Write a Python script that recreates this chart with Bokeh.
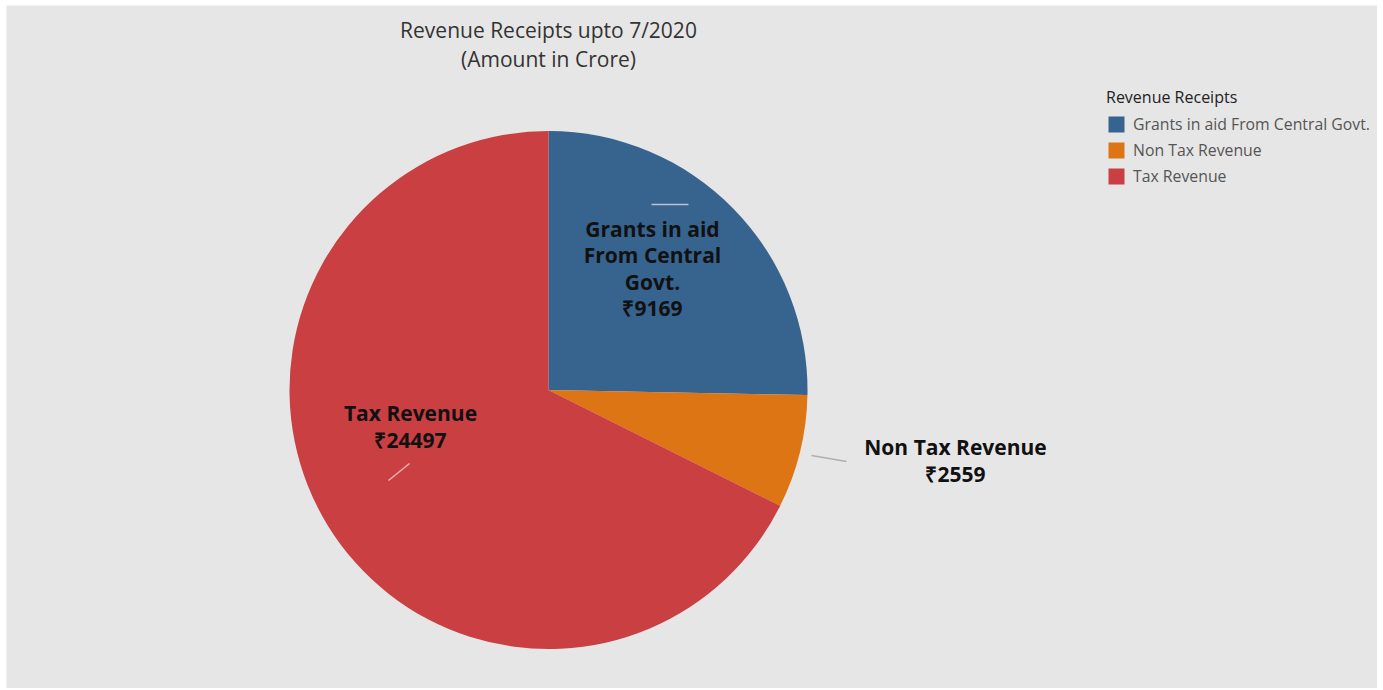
import numpy as np
from bokeh.plotting import figure
from bokeh.models import Range1d, ColumnDataSource, Legend, LegendItem
from bokeh.core.properties import value
from bokeh.embed import file_html
from bokeh.resources import INLINE

# ---- data ----
categories = ["Grants in aid From Central Govt.", "Non Tax Revenue", "Tax Revenue"]
label_lines = ["Grants in aid\nFrom Central\nGovt.", "Non Tax Revenue", "Tax Revenue"]
amounts = [9169, 2559, 24497]
colors = ["#37638f", "#dd7515", "#c93f42"]
title_lines = ["Revenue Receipts upto 7/2020", "(Amount in Crore)"]
legend_title = "Revenue Receipts"

OX, OY = 6, 5
W, H = 1371, 683
BG = "#e6e6e6"
FONT = "Open Sans"

def X(px):
    return px - OX

def Y(py):
    return H - (py - OY)

p = figure(width=W, height=H, x_range=Range1d(0, W), y_range=Range1d(0, H),
           output_backend="svg", toolbar_location=None, min_border=0,
           background_fill_color=BG, border_fill_color=BG, outline_line_color=None)
p.margin = (OY, 0, 0, OX)
p.axis.visible = False
p.grid.visible = False

# pie geometry (clockwise from 12 o'clock)
cx, cy, R = X(548), Y(389.5), 259
vals = np.array(amounts, dtype=float)
frac = vals / vals.sum()
cum = np.concatenate([[0], np.cumsum(frac)])
start = np.pi / 2 - cum[1:] * 2 * np.pi
end = np.pi / 2 - cum[:-1] * 2 * np.pi

src = ColumnDataSource(dict(x=[cx] * 3, y=[cy] * 3, start=start, end=end,
                            color=colors, cat=categories))
pie = p.wedge(x="x", y="y", radius=R, radius_units="screen", start_angle="start",
              end_angle="end", fill_color="color", line_color=None, source=src)

# leader lines
p.segment(x0=[X(651), X(388), X(811)], y0=[Y(204), Y(480), Y(455)],
          x1=[X(688), X(409), X(846)], y1=[Y(204), Y(463), Y(461)],
          line_color=["#b8c4d3", "#e8b4b4", "#b0b0b0"], line_width=1.5)

# slice labels
lab_txt = [f"{label_lines[i]}\n\u20b9{amounts[i]}" for i in range(3)]
p.text(x=[X(652), X(955), X(410)], y=[Y(268), Y(460), Y(426)], text=lab_txt,
       text_align="center", text_baseline="middle", text_font=value(FONT),
       text_font_style="bold", text_font_size="21px", text_color="#111111",
       text_line_height=0.93)

# title
p.text(x=[X(548), X(548)], y=[Y(29), Y(58)], text=title_lines, text_align="center",
       text_baseline="middle", text_font=value(FONT), text_font_size="21px",
       text_color="#333333")

# legend
items = [LegendItem(label=categories[i], renderers=[pie], index=i) for i in range(3)]
legend = Legend(items=items, location=(X(1106), Y(187)), title=legend_title,
                title_text_font=FONT, title_text_font_size="16px",
                title_text_font_style="normal",
                title_text_color="#222222", title_standoff=5,
                label_text_font=FONT, label_text_font_size="15.8px",
                label_text_color="#555555", glyph_width=20, glyph_height=20,
                label_height=20, label_standoff=7, spacing=4, padding=0, margin=0,
                border_line_alpha=0, background_fill_alpha=0)
p.add_layout(legend)

open("out.html", "w").write(file_html(p, INLINE))
